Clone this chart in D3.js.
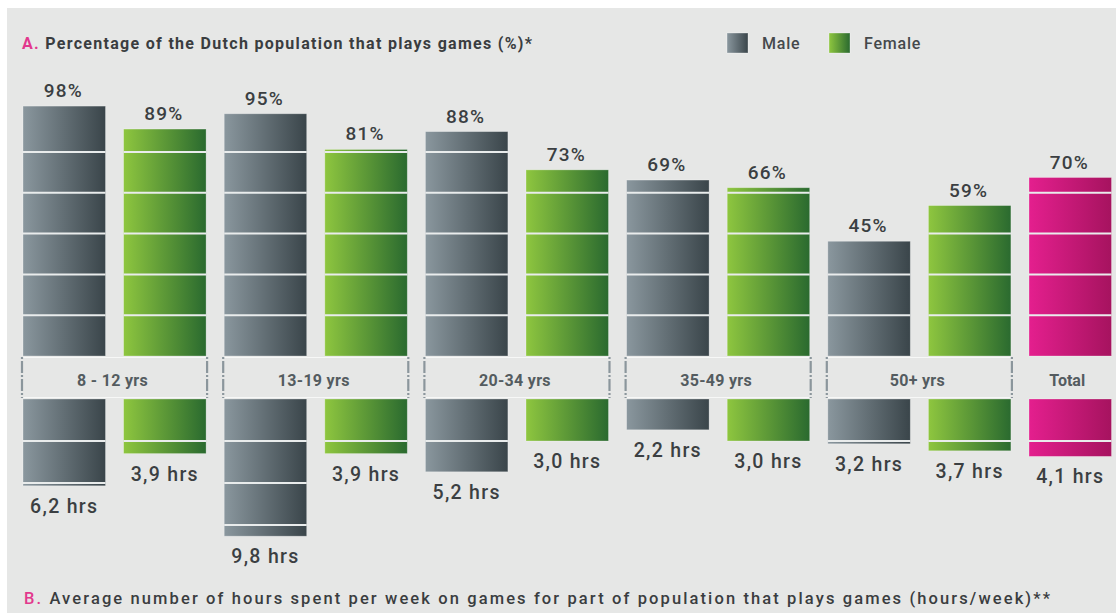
<!DOCTYPE html>
<html>
<head>
<meta charset="utf-8">
<script src="https://cdn.jsdelivr.net/npm/d3@7/dist/d3.min.js"></script>
<style>
  html, body { margin: 0; padding: 0; background: #ffffff; }
  svg { display: block; }
  text { font-family: Roboto, "DejaVu Sans", sans-serif; }
</style>
</head>
<body>
<svg id="chart" width="1116" height="613"></svg>
<script>
// Age groups and the two measures per sex
const groups = ["8 - 12 yrs", "13-19 yrs", "20-34 yrs", "35-49 yrs", "50+ yrs"];
const malePct = [98, 95, 88, 69, 45];
const femalePct = [89, 81, 73, 66, 59];
const maleHrs = [6.2, 9.8, 5.2, 2.2, 3.2];
const femaleHrs = [3.9, 3.9, 3.0, 3.0, 3.7];
const totalLabel = "Total";
const totalPct = 70;
const totalHrs = 4.1;

// Divider lines drawn across the bars
const pctTicks = [16, 32, 48, 64, 80];
const hrsTicks = [3, 6, 9];

const legendItems = [
  { key: "male", label: "Male" },
  { key: "female", label: "Female" }
];

const titleA = "Percentage of the Dutch population that plays games (%)*";
const titleB = "Average number of hours spent per week on games for part of population that plays games (hours/week)**";

// One entry per bar slot: male, female for each group, then the total
const bars = [];
groups.forEach((g, i) => {
  bars.push({ key: "m" + i, series: "male", group: i, pct: malePct[i], hrs: maleHrs[i] });
  bars.push({ key: "f" + i, series: "female", group: i, pct: femalePct[i], hrs: femaleHrs[i] });
});
bars.push({ key: "total", series: "total", group: -1, pct: totalPct, hrs: totalHrs });

const svg = d3.select("#chart");

// Panel background
svg.append("rect").attr("x", 7).attr("y", 8).attr("width", 1109).attr("height", 605).attr("fill", "#e6e7e6");

// Horizontal gradients for each series
const defs = svg.append("defs");
const gradients = {
  male: ["#8a979e", "#3a454a"],
  female: ["#8ec63f", "#2a6a2f"],
  total: ["#e41f8e", "#a6135f"]
};
Object.entries(gradients).forEach(([k, [c0, c1]]) => {
  const lg = defs.append("linearGradient").attr("id", "grad-" + k)
    .attr("x1", "0%").attr("x2", "100%").attr("y1", "0%").attr("y2", "0%");
  lg.append("stop").attr("offset", "0%").attr("stop-color", c0);
  lg.append("stop").attr("offset", "100%").attr("stop-color", c1);
});

// Scales
const x = d3.scaleBand().domain(bars.map(d => d.key)).range([23, 1111.5]).paddingInner(0.18).paddingOuter(0);
const yPct = d3.scaleLinear().domain([0, 100]).range([356, 101]);
const yHrs = d3.scaleLinear().domain([0, 10]).range([399, 539]);

const pctFmt = v => v + "%";
const hrsFmt = v => d3.format(".1f")(v).replace(".", ",") + " hrs";

// ---- Upper panel: share of players ----
const upper = svg.append("g");
upper.selectAll("rect.pct").data(bars).join("rect")
  .attr("class", "pct")
  .attr("x", d => x(d.key))
  .attr("y", d => yPct(d.pct))
  .attr("width", x.bandwidth())
  .attr("height", d => yPct(0) - yPct(d.pct))
  .attr("fill", d => `url(#grad-${d.series})`)
  .attr("stroke", "rgba(255,255,255,0.35)")
  .attr("stroke-width", 0.8);

upper.selectAll("g.pctlines").data(bars).join("g").attr("class", "pctlines")
  .each(function (d) {
    d3.select(this).selectAll("line").data(pctTicks.filter(t => t < d.pct)).join("line")
      .attr("x1", x(d.key)).attr("x2", x(d.key) + x.bandwidth())
      .attr("y1", t => yPct(t)).attr("y2", t => yPct(t))
      .attr("stroke", "#e9ecec").attr("stroke-width", 2);
  });

upper.selectAll("text.pctlabel").data(bars).join("text")
  .attr("class", "pctlabel")
  .attr("x", d => x(d.key) + x.bandwidth() / 2 - 1)
  .attr("y", d => yPct(d.pct) - 9)
  .attr("text-anchor", "middle")
  .attr("font-size", 19).attr("font-weight", 500)
  .attr("letter-spacing", 1.2)
  .attr("fill", "#3b3f42")
  .text(d => pctFmt(d.pct));

// ---- Lower panel: weekly hours ----
const lower = svg.append("g");
lower.selectAll("rect.hrs").data(bars).join("rect")
  .attr("class", "hrs")
  .attr("x", d => x(d.key))
  .attr("y", yHrs(0))
  .attr("width", x.bandwidth())
  .attr("height", d => yHrs(d.hrs) - yHrs(0))
  .attr("fill", d => `url(#grad-${d.series})`)
  .attr("stroke", "rgba(255,255,255,0.35)")
  .attr("stroke-width", 0.8);

lower.selectAll("g.hrslines").data(bars).join("g").attr("class", "hrslines")
  .each(function (d) {
    d3.select(this).selectAll("line").data(hrsTicks.filter(t => t < d.hrs)).join("line")
      .attr("x1", x(d.key)).attr("x2", x(d.key) + x.bandwidth())
      .attr("y1", t => yHrs(t)).attr("y2", t => yHrs(t))
      .attr("stroke", "#e9ecec").attr("stroke-width", 2);
  });

lower.selectAll("text.hrslabel").data(bars).join("text")
  .attr("class", "hrslabel")
  .attr("x", d => x(d.key) + x.bandwidth() / 2)
  .attr("y", d => yHrs(d.hrs) + 27)
  .attr("text-anchor", "middle")
  .attr("font-size", 19.5).attr("font-weight", 500)
  .attr("letter-spacing", 1.3)
  .attr("fill", "#3b3f42")
  .text(d => hrsFmt(d.hrs));

// ---- Middle band: age group boxes ----
const band = svg.append("g");
const bandTop = 357, bandBottom = 398;
groups.forEach((g, i) => {
  const x0 = x("m" + i) - 1;
  const x1 = x("f" + i) + x.bandwidth() + 1;
  band.append("line").attr("x1", x0).attr("x2", x1).attr("y1", bandTop + 0.5).attr("y2", bandTop + 0.5)
    .attr("stroke", "#f7f8f7").attr("stroke-width", 1);
  band.append("line").attr("x1", x0).attr("x2", x1).attr("y1", bandBottom - 0.5).attr("y2", bandBottom - 0.5)
    .attr("stroke", "#f7f8f7").attr("stroke-width", 1);
  [x0, x1].forEach(xx => {
    band.append("line").attr("x1", xx).attr("x2", xx).attr("y1", bandTop).attr("y2", bandBottom)
      .attr("stroke", "#8b969c").attr("stroke-width", 2.2)
      .attr("stroke-dasharray", "2,2,12,2,2,2,12,2,2");
  });
  band.append("text")
    .attr("x", (x0 + x1) / 2 - 2)
    .attr("y", 386)
    .attr("text-anchor", "middle")
    .attr("font-size", 16).attr("font-weight", 700)
    .attr("letter-spacing", 0.3)
    .attr("fill", "#545c60")
    .text(g);
});
band.append("text")
  .attr("x", x("total") + x.bandwidth() / 2 - 3)
  .attr("y", 386)
  .attr("text-anchor", "middle")
  .attr("font-size", 16).attr("font-weight", 700)
  .attr("fill", "#545c60")
  .text(totalLabel);

// ---- Titles ----
const tA = svg.append("text").attr("x", 22).attr("y", 49)
  .attr("font-size", 16).attr("font-weight", 700).attr("fill", "#3a3d40")
  .attr("textLength", 510).attr("lengthAdjust", "spacing");
tA.append("tspan").attr("fill", "#e2388d").text("A. ");
tA.append("tspan").text(titleA);

const tB = svg.append("text").attr("x", 24).attr("y", 604)
  .attr("font-size", 16.5).attr("font-weight", 500).attr("fill", "#3a3d40")
  .attr("textLength", 1026).attr("lengthAdjust", "spacing");
tB.append("tspan").attr("fill", "#e2388d").text("B. ");
tB.append("tspan").text(titleB);

// ---- Legend ----
const legend = svg.append("g");
const legendX = [727, 829];
legendItems.forEach((item, i) => {
  legend.append("rect").attr("x", legendX[i]).attr("y", 33).attr("width", 21).attr("height", 20)
    .attr("fill", `url(#grad-${item.key})`)
    .attr("stroke", "rgba(255,255,255,0.4)").attr("stroke-width", 0.8);
  legend.append("text").attr("x", legendX[i] + 35).attr("y", 49)
    .attr("font-size", 16).attr("font-weight", 500).attr("letter-spacing", 0.8)
    .attr("fill", "#45494c").text(item.label);
});
</script>
</body>
</html>
